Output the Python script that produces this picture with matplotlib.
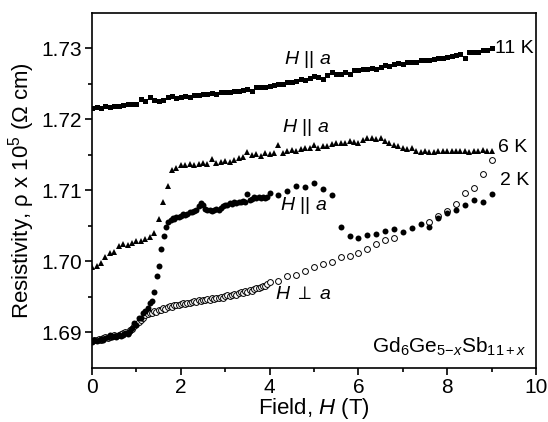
import numpy as np
import matplotlib
matplotlib.use('Agg')
import matplotlib.pyplot as plt

plt.rcParams['font.family'] = ['Liberation Sans', 'DejaVu Sans']
plt.rcParams['mathtext.fontset'] = 'custom'
plt.rcParams['mathtext.rm'] = 'Liberation Sans'
plt.rcParams['mathtext.it'] = 'Liberation Sans:italic'

# 11 K, H || a
field_11K = np.round(np.arange(0, 9.01, 0.1), 2)
rho_11K = [1.7216, 1.7217, 1.7216, 1.7218, 1.7217, 1.7219, 1.7219, 1.7220, 1.7222, 1.7222,
           1.7221, 1.7229, 1.7225, 1.7231, 1.7227, 1.7226, 1.7227, 1.7231, 1.7233, 1.7230,
           1.7232, 1.7233, 1.7232, 1.7234, 1.7234, 1.7236, 1.7235, 1.7237, 1.7236, 1.7238,
           1.7239, 1.7238, 1.7240, 1.7240, 1.7241, 1.7243, 1.7240, 1.7245, 1.7245, 1.7246,
           1.7247, 1.7248, 1.7250, 1.7249, 1.7252, 1.7253, 1.7254, 1.7256, 1.7255, 1.7258,
           1.7261, 1.7260, 1.7257, 1.7262, 1.7266, 1.7264, 1.7263, 1.7266, 1.7264, 1.7269,
           1.7270, 1.7271, 1.7271, 1.7272, 1.7271, 1.7274, 1.7276, 1.7275, 1.7278, 1.7279,
           1.7278, 1.7280, 1.7281, 1.7280, 1.7283, 1.7283, 1.7284, 1.7285, 1.7286, 1.7286,
           1.7288, 1.7289, 1.7290, 1.7292, 1.7286, 1.7294, 1.7295, 1.7295, 1.7297, 1.7298,
           1.7300]

# 6 K, H || a
field_6K = np.round(np.arange(0, 9.01, 0.1), 2)
rho_6K = [1.6992, 1.6994, 1.6998, 1.7006, 1.7012, 1.7013, 1.7021, 1.7025, 1.7023, 1.7026,
          1.7028, 1.7029, 1.7031, 1.7035, 1.7040, 1.7059, 1.7084, 1.7106, 1.7128, 1.7132,
          1.7135, 1.7136, 1.7137, 1.7136, 1.7137, 1.7138, 1.7137, 1.7144, 1.7139, 1.7140,
          1.7141, 1.7140, 1.7142, 1.7145, 1.7147, 1.7154, 1.7150, 1.7151, 1.7149, 1.7152,
          1.7151, 1.7153, 1.7164, 1.7152, 1.7156, 1.7157, 1.7156, 1.7158, 1.7160, 1.7159,
          1.7164, 1.7160, 1.7162, 1.7163, 1.7165, 1.7166, 1.7167, 1.7166, 1.7169, 1.7168,
          1.7167, 1.7171, 1.7174, 1.7173, 1.7172, 1.7173, 1.7170, 1.7166, 1.7164, 1.7163,
          1.7160, 1.7158, 1.7159, 1.7155, 1.7154, 1.7155, 1.7154, 1.7154, 1.7155, 1.7155,
          1.7155, 1.7155, 1.7155, 1.7156, 1.7155, 1.7154, 1.7156, 1.7155, 1.7157, 1.7156,
          1.7155]

# 2 K, H || a (filled circles)
field_2K_par = [0.00, 0.05, 0.10, 0.15, 0.20, 0.25, 0.30, 0.35, 0.40, 0.45, 0.50, 0.55, 0.60,
                0.65, 0.70, 0.75, 0.80, 0.85, 0.90, 0.95, 1.00, 1.05, 1.10, 1.15, 1.20, 1.25,
                1.30, 1.35, 1.40, 1.46, 1.51, 1.55, 1.61, 1.67, 1.72, 1.78, 1.83,
                1.85, 1.90, 1.95, 2.00, 2.05, 2.10, 2.15, 2.20, 2.25, 2.30, 2.35, 2.40, 2.45,
                2.50, 2.55, 2.60, 2.65, 2.70, 2.75, 2.80, 2.85, 2.90, 2.95, 3.00, 3.05, 3.10,
                3.15, 3.20, 3.25, 3.30, 3.35, 3.40, 3.45, 3.50, 3.55, 3.60, 3.65, 3.70, 3.75,
                3.80, 3.85, 3.90, 3.95, 4.00,
                4.2, 4.4, 4.6, 4.8, 5.0, 5.2, 5.4, 5.6, 5.8, 6.0, 6.2, 6.4, 6.6, 6.8, 7.0,
                7.2, 7.4, 7.6, 7.8, 8.0, 8.2, 8.4, 8.6, 8.8, 9.0]
rho_2K_par = [1.6887, 1.6889, 1.6888, 1.6890, 1.6891, 1.6890, 1.6892, 1.6893, 1.6896, 1.6893,
              1.6895, 1.6894, 1.6896, 1.6895, 1.6897, 1.6899, 1.6898, 1.6902, 1.6906, 1.6914,
              1.6911, 1.6920, 1.6921, 1.6928, 1.6930, 1.6935, 1.6941, 1.6944, 1.6957, 1.6979,
              1.6994, 1.7018, 1.7036, 1.7049, 1.7056, 1.7058, 1.7061,
              1.7060, 1.7062, 1.7063, 1.7064, 1.7066, 1.7065, 1.7067, 1.7070, 1.7069, 1.7071,
              1.7072, 1.7078, 1.7082, 1.7079, 1.7074, 1.7072, 1.7073, 1.7071, 1.7073, 1.7074,
              1.7072, 1.7075, 1.7078, 1.7080, 1.7079, 1.7082, 1.7081, 1.7083, 1.7082, 1.7084,
              1.7083, 1.7085, 1.7084, 1.7095, 1.7086, 1.7088, 1.7090, 1.7089, 1.7091, 1.7089,
              1.7090, 1.7089, 1.7091, 1.7096,
              1.7094, 1.7099, 1.7106, 1.7104, 1.7111, 1.7102, 1.7094, 1.7049, 1.7036, 1.7033,
              1.7037, 1.7039, 1.7043, 1.7045, 1.7042, 1.7047, 1.7052, 1.7048, 1.7061, 1.7068,
              1.7072, 1.7079, 1.7087, 1.7083, 1.7095]

# 2 K, H perp a (open circles)
field_2K_perp = [0.00, 0.05, 0.10, 0.15, 0.20, 0.25, 0.30, 0.35, 0.40, 0.45, 0.50, 0.55, 0.60,
                 0.65, 0.70, 0.75, 0.80, 0.85, 0.90, 0.95, 1.00, 1.05, 1.10, 1.15, 1.20, 1.25,
                 1.30, 1.35, 1.40, 1.45, 1.50, 1.55, 1.60, 1.65, 1.70, 1.75, 1.80, 1.85, 1.90,
                 1.95, 2.00, 2.05, 2.10, 2.15, 2.20, 2.25, 2.30, 2.35, 2.40, 2.45, 2.50, 2.55,
                 2.60, 2.65, 2.70, 2.75, 2.80, 2.85, 2.90, 2.95, 3.00, 3.05, 3.10, 3.15, 3.20,
                 3.25, 3.30, 3.35, 3.40, 3.45, 3.50, 3.55, 3.60, 3.65, 3.70, 3.75, 3.80, 3.85,
                 3.90, 3.95, 4.00,
                 4.2, 4.4, 4.6, 4.8, 5.0, 5.2, 5.4, 5.6, 5.8, 6.0, 6.2, 6.4, 6.6, 6.8,
                 7.6, 7.8, 8.0, 8.2, 8.4, 8.6, 8.8, 9.0]
rho_2K_perp = [1.6888, 1.6890, 1.6889, 1.6891, 1.6890, 1.6892, 1.6893, 1.6892, 1.6894, 1.6895,
               1.6896, 1.6895, 1.6897, 1.6898, 1.6899, 1.6900, 1.6899, 1.6903, 1.6905, 1.6909,
               1.6912, 1.6915, 1.6918, 1.6921, 1.6924, 1.6926, 1.6928, 1.6927, 1.6930, 1.6929,
               1.6932, 1.6931, 1.6934, 1.6933, 1.6936, 1.6937, 1.6936, 1.6938, 1.6939, 1.6938,
               1.6940, 1.6941, 1.6940, 1.6942, 1.6941, 1.6943, 1.6944, 1.6943, 1.6945, 1.6944,
               1.6946, 1.6945, 1.6947, 1.6946, 1.6948, 1.6947, 1.6949, 1.6948, 1.6950, 1.6949,
               1.6951, 1.6952, 1.6951, 1.6953, 1.6954, 1.6952, 1.6955, 1.6957, 1.6956, 1.6958,
               1.6957, 1.6960, 1.6959, 1.6961, 1.6962, 1.6963, 1.6964, 1.6966, 1.6965, 1.6968,
               1.6971,
               1.6973, 1.6980, 1.6981, 1.6986, 1.6992, 1.6996, 1.6999, 1.7006, 1.7008, 1.7012,
               1.7018, 1.7024, 1.7030, 1.7033,
               1.7056, 1.7064, 1.7071, 1.7081, 1.7096, 1.7103, 1.7123, 1.7142]

fig = plt.figure(figsize=(5.48, 4.22), dpi=100)
ax = fig.add_axes([0.168, 0.128, 0.810, 0.842])

ax.plot(field_11K, rho_11K, 's', color='black', ms=3.6, mew=0)
ax.plot(field_6K, rho_6K, '^', color='black', ms=4.6, mew=0)
ax.plot(field_2K_perp, rho_2K_perp, 'o', mfc='white', mec='black', ms=4.2, mew=0.7)
ax.plot(field_2K_par, rho_2K_par, 'o', color='black', ms=4.3, mew=0)

ax.text(9.08, 1.7300, '11 K', fontsize=14, va='center', ha='left')
ax.text(9.15, 1.7160, '6 K', fontsize=14, va='center', ha='left')
ax.text(9.2, 1.7114, '2 K', fontsize=14, va='center', ha='left')
ax.text(4.85, 1.7284, r'$H$ || $a$', fontsize=14, va='center', ha='center')
ax.text(4.81, 1.7189, r'$H$ || $a$', fontsize=14, va='center', ha='center')
ax.text(4.77, 1.7079, r'$H$ || $a$', fontsize=14, va='center', ha='center')
ax.text(4.77, 1.6953, r'$H$ $\perp$ $a$', fontsize=14, va='center', ha='center')
ax.text(9.78, 1.6880, r'Gd$_6$Ge$_{5\mathrm{-}x}$Sb$_{11+x}$', fontsize=15,
        va='center', ha='right')

ax.set_xlim(0, 10)
ax.set_ylim(1.685, 1.735)
ax.set_xticks([0, 2, 4, 6, 8, 10])
ax.set_xticks([1, 3, 5, 7, 9], minor=True)
ax.set_yticks([1.69, 1.70, 1.71, 1.72, 1.73])
ax.set_yticks([1.695, 1.705, 1.715, 1.725], minor=True)
ax.set_yticklabels(['1.69', '1.70', '1.71', '1.72', '1.73'])
ax.tick_params(which='both', direction='out', top=False, right=False, labelsize=15, width=1.2)
ax.tick_params(which='major', length=5, pad=2.5)
ax.tick_params(which='minor', length=3)
for s in ax.spines.values():
    s.set_linewidth(1.2)

ax.set_xlabel(r'Field, $H$ (T)', fontsize=16, labelpad=-1)
ax.set_ylabel(r'Resistivity, ρ x 10$^5$ (Ω cm)', fontsize=16, labelpad=3)

fig.savefig('out.png', dpi=100)
